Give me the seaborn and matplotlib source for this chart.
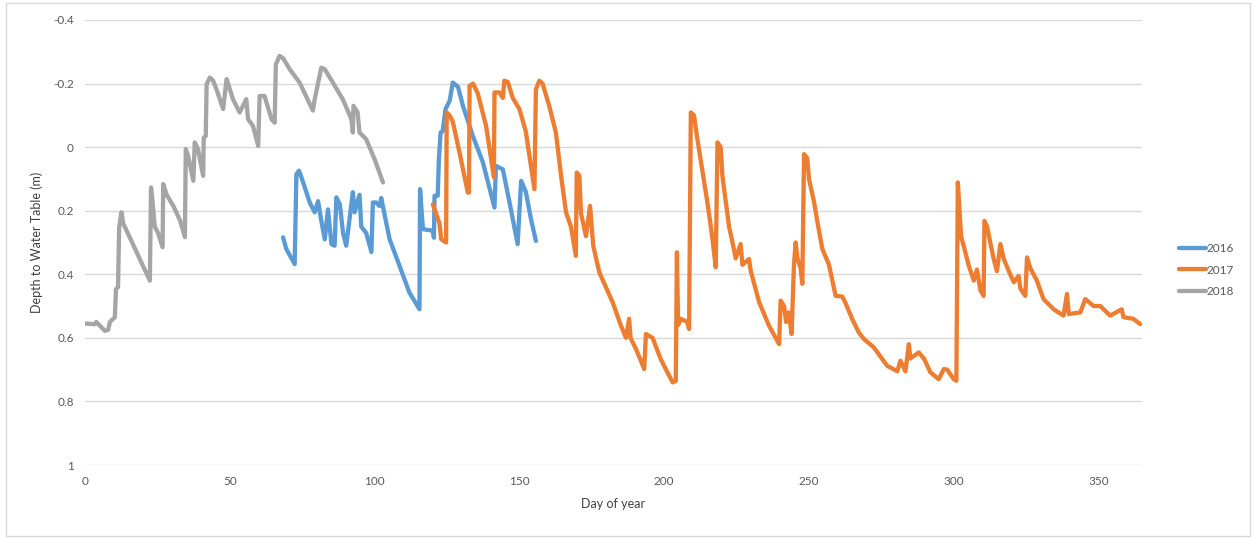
import matplotlib
matplotlib.use("Agg")
import matplotlib.pyplot as plt
from matplotlib.patches import Rectangle
import seaborn as sns
import pandas as pd

# ---------------- data ----------------
days_2016 = [68.4, 69.5, 72.4, 73.0, 73.9, 75.3, 77.6, 79.3, 80.5, 81.6, 82.8, 83.9, 85.1, 86.2,
             86.8, 88.0, 89.1, 90.2, 92.5, 93.1, 94.8, 95.4, 97.1, 98.9, 99.4, 100.5, 101.7,
             102.3, 103.4, 105.2, 108.6, 112.0, 115.5, 115.7, 116.3, 116.7, 120.1, 120.5, 120.7,
             121.8, 122.2, 122.8, 123.5, 124.5, 125.9, 127.0, 128.8, 130.5, 133.9, 137.4, 141.4,
             141.9, 144.3, 146.6, 149.4, 150.6, 152.2, 154.0, 155.7]
depth_2016 = [0.284, 0.32, 0.368, 0.085, 0.074, 0.11, 0.174, 0.205, 0.17, 0.232, 0.29, 0.196, 0.305, 0.31,
              0.158, 0.18, 0.27, 0.31, 0.142, 0.205, 0.15, 0.25, 0.27, 0.33, 0.174, 0.174, 0.185,
              0.16, 0.21, 0.29, 0.373, 0.457, 0.51, 0.132, 0.21, 0.258, 0.263, 0.285, 0.153,
              0.153, 0.038, -0.046, -0.05, -0.12, -0.145, -0.203, -0.19, -0.13, -0.036, 0.048, 0.19,
              0.059, 0.07, 0.174, 0.305, 0.106, 0.14, 0.226, 0.295]

days_2017 = [120.1, 121.3, 122.4, 123.0, 124.7, 124.9, 125.9, 127.0, 129.3, 132.2, 132.6, 132.8, 134.0,
             135.6, 138.5, 141.2, 141.4, 143.1, 144.3, 144.8, 146.0, 147.7, 150.0, 152.2, 155.2, 155.7,
             156.9, 158.0, 160.3, 162.6, 164.4, 166.1, 167.8, 169.5, 169.8, 170.7, 171.3, 173.0, 174.4,
             175.5, 177.6, 182.2, 185.0, 186.8, 187.9, 188.4, 190.5, 193.1, 193.7, 196.0, 198.8, 202.9,
             204.0, 204.4, 204.8, 205.7, 208.0, 208.6, 209.2, 210.3, 210.9, 212.0, 213.2, 214.4, 215.5,
             216.7, 217.8, 218.4, 219.5, 220.1, 221.3, 222.4, 223.6, 224.7, 226.4, 227.0, 229.3, 229.9,
             232.8, 236.2, 239.7, 240.2, 241.4, 242.1, 243.0, 244.0, 244.8, 245.4, 246.0, 247.1, 247.7,
             248.3, 249.4, 250.0, 251.7, 252.9, 254.6, 256.9, 259.2, 261.5, 262.6, 264.9, 267.2, 269.0,
             272.4, 277.0, 280.5, 281.6, 283.3, 284.5, 285.0, 287.9, 289.7, 291.9, 294.8, 296.6, 297.7,
             300.0, 300.9, 301.4, 302.0, 302.5, 303.4, 305.2, 306.9, 308.0, 309.2, 310.3, 310.6, 311.5,
             312.6, 313.8, 314.9, 316.1, 317.2, 319.0, 320.7, 322.4, 323.0, 324.7, 325.3, 326.4, 328.7,
             331.0, 334.5, 337.9, 339.1, 339.7, 343.7, 345.4, 348.3, 350.6, 354.0, 358.0, 358.6, 362.0,
             364.4]
depth_2017 = [0.18, 0.21, 0.24, 0.29, 0.3, -0.109, -0.1, -0.08, 0.016, 0.143, 0.143, -0.193, -0.2,
              -0.17, -0.067, 0.095, -0.172, -0.172, -0.155, -0.209, -0.205, -0.155, -0.12, -0.05, 0.132, -0.182,
              -0.209, -0.2, -0.13, -0.046, 0.09, 0.205, 0.25, 0.342, 0.08, 0.09, 0.21, 0.28, 0.185,
              0.31, 0.394, 0.488, 0.56, 0.6, 0.54, 0.6, 0.64, 0.698, 0.588, 0.6, 0.667, 0.74,
              0.735, 0.331, 0.56, 0.54, 0.55, 0.572, -0.109, -0.1, -0.06, 0.006, 0.075, 0.143, 0.21,
              0.29, 0.378, -0.015, 0.0, 0.09, 0.174, 0.25, 0.3, 0.35, 0.305, 0.37, 0.352, 0.39,
              0.488, 0.562, 0.62, 0.483, 0.5, 0.55, 0.52, 0.588, 0.373, 0.3, 0.35, 0.38, 0.43,
              0.022, 0.035, 0.1, 0.17, 0.235, 0.32, 0.37, 0.468, 0.47, 0.49, 0.54, 0.583, 0.604,
              0.63, 0.688, 0.705, 0.672, 0.705, 0.62, 0.665, 0.646, 0.665, 0.708, 0.73, 0.698, 0.7,
              0.73, 0.735, 0.111, 0.2, 0.28, 0.31, 0.373, 0.42, 0.385, 0.45, 0.468, 0.232, 0.25,
              0.3, 0.352, 0.39, 0.305, 0.35, 0.39, 0.425, 0.405, 0.445, 0.468, 0.347, 0.38, 0.42,
              0.478, 0.51, 0.53, 0.462, 0.525, 0.52, 0.478, 0.5, 0.5, 0.53, 0.51, 0.535, 0.54,
              0.557]

days_2018 = [0.0, 3.4, 3.9, 6.9, 8.0, 8.6, 10.3, 10.7, 11.4, 11.8, 12.6, 13.2, 22.4, 22.8, 23.3, 24.1,
             25.2, 26.8, 27.0, 28.2, 30.5, 32.8, 34.5, 34.8, 35.6, 37.4, 37.9, 39.0, 40.8, 41.0, 41.7,
             42.0, 43.1, 44.2, 45.4, 47.7, 48.9, 51.1, 53.4, 55.7, 56.3, 58.0, 59.8, 60.3, 62.0, 64.4,
             65.5, 65.9, 67.2, 68.4, 70.7, 74.1, 78.7, 79.3, 81.6, 82.8, 85.6, 89.0, 92.0, 92.5, 92.7,
             94.1, 94.8, 97.1, 100.0, 102.9]
depth_2018 = [0.555, 0.557, 0.55, 0.578, 0.575, 0.55, 0.535, 0.447, 0.44, 0.252, 0.205, 0.24, 0.42, 0.127,
              0.17, 0.25, 0.27, 0.315, 0.116, 0.15, 0.185, 0.23, 0.283, 0.006, 0.027, 0.106, -0.015,
              0.006, 0.09, -0.03, -0.035, -0.198, -0.219, -0.21, -0.182, -0.12, -0.214, -0.151, -0.109,
              -0.151, -0.088, -0.067, -0.004, -0.161, -0.161, -0.088, -0.077, -0.26, -0.287, -0.28, -0.245,
              -0.203, -0.115, -0.15, -0.25, -0.245, -0.203, -0.151, -0.088, -0.046, -0.13, -0.11, -0.046,
              -0.025, 0.038, 0.111]

years = ["2016", "2017", "2018"]
y_ticks = [-0.4, -0.2, 0, 0.2, 0.4, 0.6, 0.8, 1]
y_tick_labels = ["-0.4", "-0.2", "0", "0.2", "0.4", "0.6", "0.8", "1"]
x_ticks = [0, 50, 100, 150, 200, 250, 300, 350]

colors = {"2016": "#5B9BD5", "2017": "#ED7D31", "2018": "#A5A5A5"}

frames = []
for yr, d, v in [("2016", days_2016, depth_2016), ("2017", days_2017, depth_2017),
                 ("2018", days_2018, depth_2018)]:
    frames.append(pd.DataFrame({"day": d, "depth": v, "year": yr}))
df = pd.concat(frames, ignore_index=True)

# ---------------- plot ----------------
sns.set_theme(style="white")
plt.rcParams["font.family"] = ["Lato", "DejaVu Sans"]

fig = plt.figure(figsize=(12.54, 5.39), dpi=100)
ax = fig.add_axes([85 / 1254, 1 - 465 / 539, (1142 - 85) / 1254, (465 - 20) / 539])

sns.lineplot(data=df, x="day", y="depth", hue="year", hue_order=years, palette=colors,
             sort=False, estimator=None, units="year", linewidth=3.1, ax=ax, legend=True)

ax.set_xlim(0, 365)
ax.set_ylim(1, -0.4)
ax.set_yticks(y_ticks)
ax.set_yticklabels(y_tick_labels)
ax.set_xticks(x_ticks)
ax.grid(axis="y", color="#D9D9D9", linewidth=1)
ax.grid(axis="x", visible=False)
ax.set_axisbelow(True)
for s in ax.spines.values():
    s.set_visible(False)
ax.tick_params(axis="both", length=0, labelsize=8.5, labelcolor="#595959", pad=8)
ax.set_xlabel("Day of year", fontsize=9, color="#404040", labelpad=8)
ax.set_ylabel("Depth to Water Table (m)", fontsize=9, color="#404040", labelpad=7)

handles, labels = ax.get_legend_handles_labels()
for h in handles:
    h.set_linewidth(3.1)
ax.legend(handles, labels, loc="center left", bbox_to_anchor=(1168 / 1254, 1 - 270 / 539),
          bbox_transform=fig.transFigure, frameon=False, fontsize=8.5, labelcolor="#595959",
          handlelength=2.3, handletextpad=0.1, labelspacing=0.9)

fig.patches.append(Rectangle((6 / 1254, 3 / 539), (1250 - 6) / 1254, (536 - 3) / 539,
                             transform=fig.transFigure, fill=False, edgecolor="#D9D9D9",
                             linewidth=1))

fig.savefig("out.png", dpi=100)
